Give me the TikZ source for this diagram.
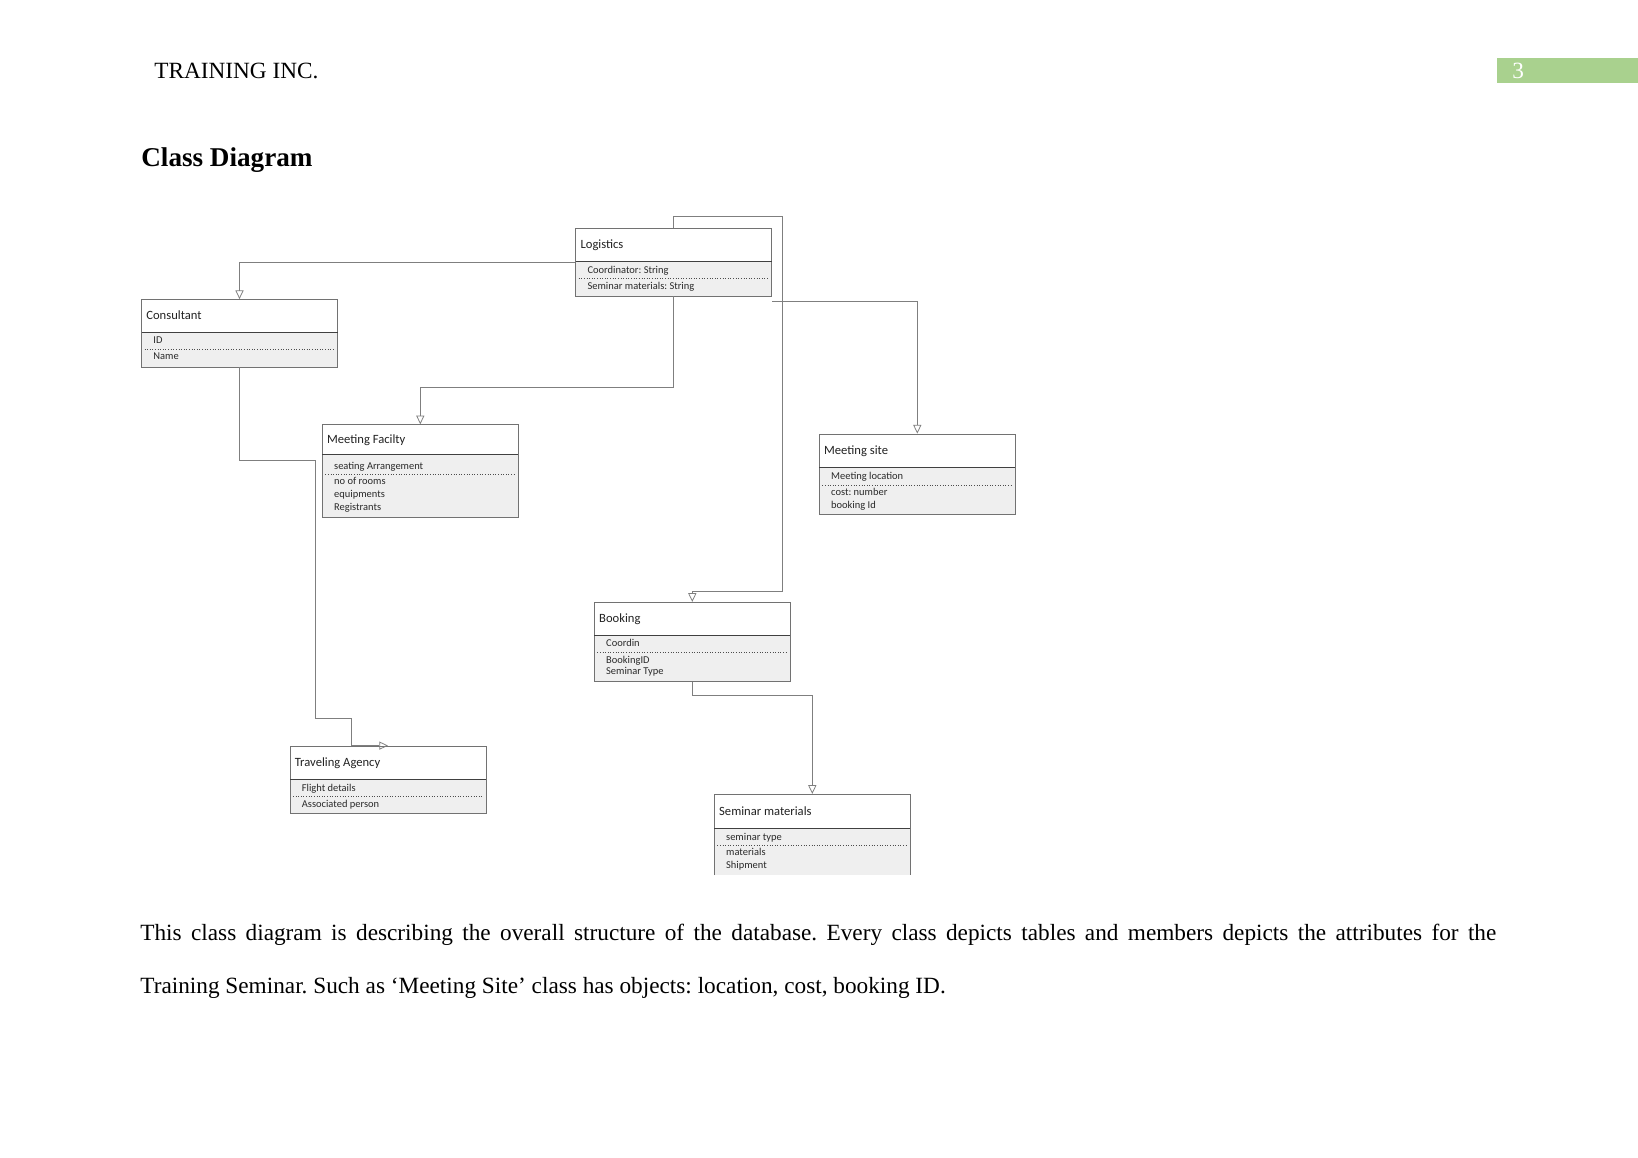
\documentclass[tikz,border=0pt]{standalone}
\usepackage{fontspec}
\setmainfont{Liberation Serif}
\newfontfamily\boxfont{Carlito}
\usetikzlibrary{arrows.meta,fit}
\definecolor{lineg}{HTML}{7F7F7F}
\definecolor{memfill}{HTML}{EFEFEF}
\definecolor{pagegreen}{HTML}{A9D18E}
\definecolor{titletxt}{HTML}{222222}
\definecolor{memtxt}{HTML}{2A2A2A}
\frenchspacing
\tikzset{
  boxline/.style={draw=lineg!90!black, line width=0.45pt},
  headline/.style={draw=black!75, line width=0.45pt},
  dotline/.style={draw=black!70, line width=0.35pt, densely dotted},
  ctitle/.style={anchor=base west, inner sep=0pt, text=titletxt, font=\boxfont\fontsize{6.5}{7.8}\selectfont},
  cmem/.style={anchor=base west, inner sep=0pt, text=memtxt, font=\boxfont\fontsize{5.4}{6.5}\selectfont},
  conn/.style={draw=lineg, line width=0.4pt, -{Triangle[open,length=4.5pt,width=4.2pt]}},
  pagetext/.style={anchor=base west, inner sep=0pt, font=\fontsize{12}{14.4}\selectfont},
}
% #1 name, #2 left, #3 top, #4 header bottom, #5 dotted y, #6 bottom, #7 title
\newcommand{\UMLframe}[7]{%
  \fill[memfill] (#2,#4) rectangle (#2+196,#6);
  \draw[boxline] (#2,#3) rectangle (#2+196,#6);
  \draw[headline] (#2,#4) -- (#2+196,#4);
  \draw[dotline] (#2+3,#5) -- (#2+193,#5);
  \node[inner sep=0pt, fit={(#2,#3) (#2+196,#6)}] (#1) {};
  \node[ctitle] (#1-t) at (#2+4.5,{(#3+#4)/2+4}) {#7};
}
% #1 node name, #2 box left, #3 row centre y, #4 text
\newcommand{\UMLmem}[4]{%
  \node[cmem] (#1) at (#2+11.5,#3+3) {#4};
}
\begin{document}
\begin{tikzpicture}[x=0.181319mm, y=-0.181319mm]
\useasboundingbox[fill=white] (0,0) rectangle (1638,1158);

% page header
\node[pagetext] (hdr) at (154,78) {TRAINING INC.};
\fill[pagegreen] (1497,57.5) rectangle (1638,82.5);
\node[pagetext, text=white] (pgnum) at (1512,78) {3};
\node[anchor=base west, inner sep=0pt, font=\bfseries\fontsize{14}{16.8}\selectfont] (ttl) at (141,166) {Class Diagram};

% Logistics
\UMLframe{log}{575.7}{228}{261}{278}{296}{Logistics}
\UMLmem{log-m1}{575.7}{270}{Coordinator: String}
\UMLmem{log-m2}{575.7}{286.5}{Seminar materials: String}

% Consultant
\UMLframe{cons}{141.5}{299.5}{332.3}{349.3}{367}{Consultant}
\UMLmem{cons-m1}{141.5}{340.7}{ID}
\UMLmem{cons-m2}{141.5}{356}{Name}

% Meeting Facilty
\UMLframe{mf}{322.3}{424.7}{454}{474}{517.3}{Meeting Facilty}
\UMLmem{mf-m1}{322.3}{466.7}{seating Arrangement}
\UMLmem{mf-m2}{322.3}{481.7}{no of rooms}
\UMLmem{mf-m3}{322.3}{494.3}{equipments}
\UMLmem{mf-m4}{322.3}{507.3}{Registrants}

% Meeting site
\UMLframe{ms}{819.3}{434}{467.7}{485.7}{514.3}{Meeting site}
\UMLmem{ms-m1}{819.3}{476.7}{Meeting location}
\UMLmem{ms-m2}{819.3}{492.7}{cost: number}
\UMLmem{ms-m3}{819.3}{505.7}{booking Id}

% Booking
\UMLframe{bk}{594.3}{602.3}{635}{652.7}{681.7}{Booking}
\UMLmem{bk-m1}{594.3}{643.3}{Coordin}
\UMLmem{bk-m2}{594.3}{660}{BookingID}
\UMLmem{bk-m3}{594.3}{671.5}{Seminar Type}

% Traveling Agency
\UMLframe{ta}{290}{746}{779.3}{796.7}{813.3}{Traveling Agency}
\UMLmem{ta-m1}{290}{788.7}{Flight details}
\UMLmem{ta-m2}{290}{804.3}{Associated person}

% Seminar materials (open at the bottom)
\fill[memfill] (714.3,828.3) rectangle (910.3,875);
\draw[boxline] (714.3,875) |- (910.3,794.3) -- (910.3,875);
\draw[headline] (714.3,828.3) -- (910.3,828.3);
\draw[dotline] (717.3,845.7) -- (907.3,845.7);
\node[inner sep=0pt, fit={(714.3,794.3) (910.3,875)}] (sm) {};
\node[ctitle] (sm-t) at (718.8,815.3) {Seminar materials};
\UMLmem{sm-m1}{714.3}{837.3}{seminar type}
\UMLmem{sm-m2}{714.3}{852.3}{materials}
\UMLmem{sm-m3}{714.3}{865.7}{Shipment}

% connectors
\coordinate (lb1) at (782.5,216);
\coordinate (lb2) at (782.5,591);
\coordinate (ls0) at (772,301);
\coordinate (ct1) at (315.5,460.7);
\coordinate (ct2) at (351.5,718.5);
\draw[conn] (log.west) -| (cons.north);
\draw[conn] (log.south) -- ++(0,90.5) -| (mf.north);
\draw[conn] (log.north) |- (lb1) -- (lb2) -| (bk.north);
\draw[conn] (ls0) -| (ms.north);
\draw[conn] (cons.south) |- (ct1) |- (ct2) |- (ta.north);
\draw[conn] (bk.south) -- ++(0,13) -| (sm.north);

% body text
\node[pagetext] (p1) at (140,940) {\makebox[699.5pt][s]{This class diagram is describing the overall structure of the database. Every class depicts tables and members depicts the attributes for the}};
\node[pagetext] (p2) at (140,993) {Training Seminar. Such as ‘Meeting Site’ class has objects: location, cost, booking ID.};
\end{tikzpicture}
\end{document}
